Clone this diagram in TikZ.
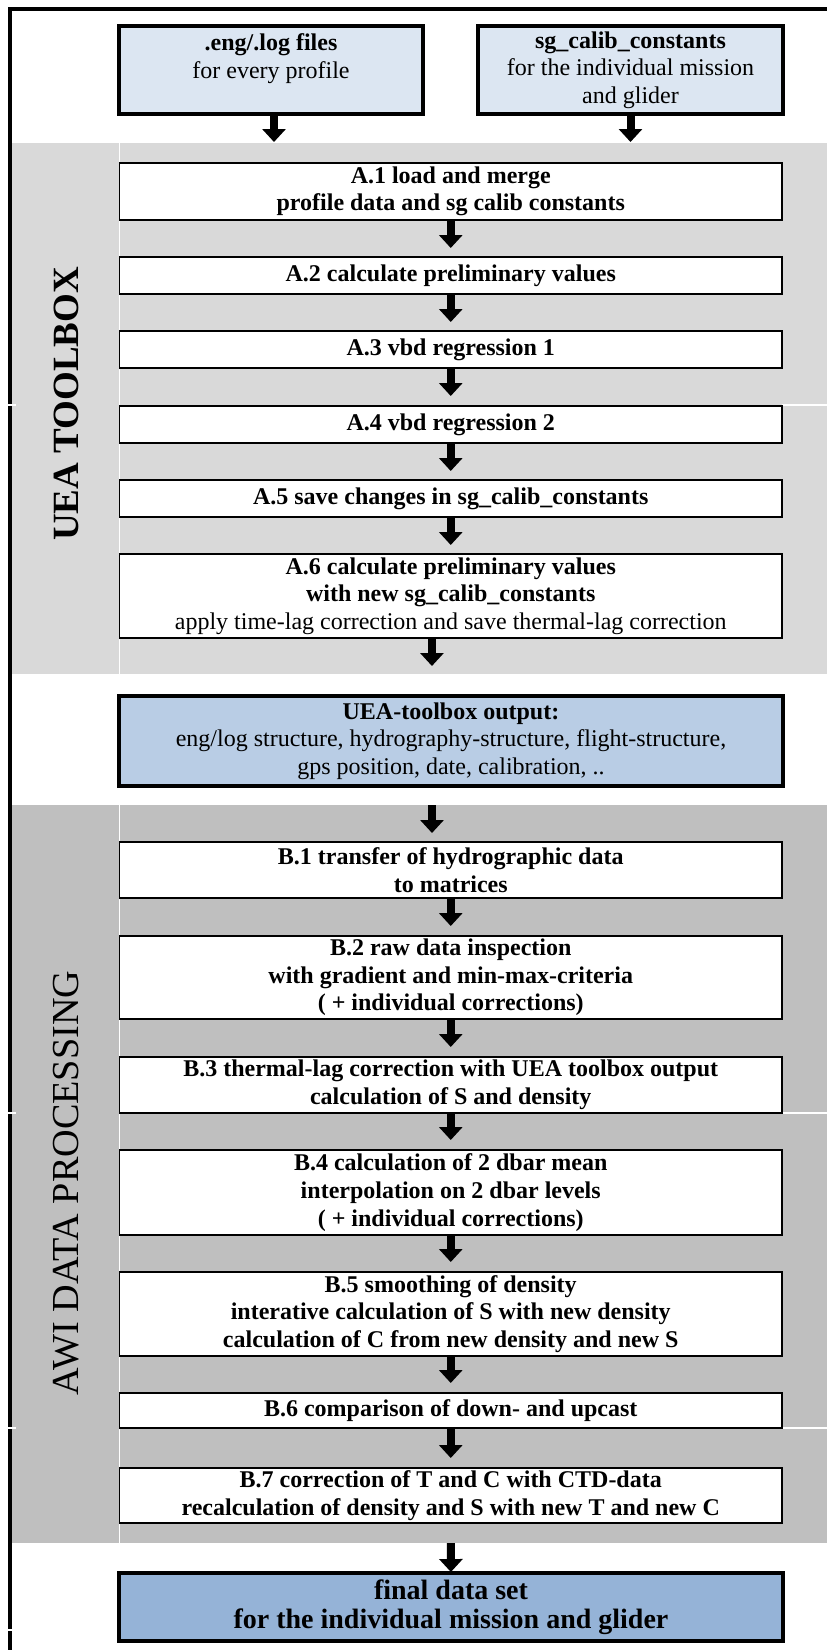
\documentclass[tikz,border=0pt]{standalone}
\usepackage{fontspec}
\setmainfont{Liberation Serif}
\usetikzlibrary{arrows.meta,calc}
\definecolor{topblue}{HTML}{DCE6F2}
\definecolor{midblue}{HTML}{B9CDE5}
\definecolor{finalblue}{HTML}{95B3D7}
\definecolor{grayA}{HTML}{D9D9D9}
\definecolor{grayB}{HTML}{BFBFBF}
\tikzset{
  stepbox/.style={draw, line width=0.6pt, fill=white, align=center, inner sep=0pt, outer sep=0pt,
    minimum width=331.25pt, font=\fontsize{12pt}{13.8pt}\selectfont\bfseries},
  inbox/.style={draw, line width=1.6pt, fill=topblue, align=center, inner sep=0pt, outer sep=0pt,
    minimum height=44pt, font=\fontsize{12pt}{13.8pt}\selectfont},
  outbox/.style={draw, line width=1.6pt, align=center, inner sep=0pt, outer sep=0pt,
    minimum width=332pt},
  flow/.style={line width=4pt, -{Triangle[width=11.5pt,length=6.5pt]}},
  sidelabel/.style={rotate=90, inner sep=0pt, font=\fontsize{18.5pt}{20pt}\selectfont},
  gapline/.style={white, line width=0.6pt}
}
\begin{document}
\begin{tikzpicture}[x=0.5pt,y=-0.5pt]
\useasboundingbox (0,0) rectangle (827,1650);
% bands
\fill[grayA] (12,143) rectangle (827,674);
\fill[grayB] (12,805) rectangle (827,1543);
\draw[gapline] (119.5,143) -- (119.5,674);
\draw[gapline] (119.5,805) -- (119.5,1543);
% outer frame
\draw[line width=2pt] (10.3,1650) -- (10.3,9) -- (827,9);
\foreach \yy in {405,1113,1428} {
  \draw[gapline] (0,\yy) -- (16,\yy);
  \draw[gapline] (782,\yy) -- (827,\yy);
}
\draw[gapline] (0,1630) -- (16,1630);
% side labels
\node[sidelabel, font=\fontsize{18.5pt}{20pt}\selectfont\bfseries] (uealab) at (66,404) {UEA TOOLBOX};
\node[sidelabel, font=\fontsize{19.1pt}{20pt}\selectfont] (awilab) at (66,1183) {AWI DATA PROCESSING};
% input boxes
\node[inbox, minimum width=152pt] (in1) at (271,70) {{\bfseries .eng/.log files}\\for every profile\\\mbox{}};
\node[inbox, minimum width=152.5pt] (in2) at (630.5,70) {{\bfseries sg\_calib\_constants}\\for the individual mission\\and glider};
% A steps
\node[stepbox, minimum height=28.5pt] (a1) at (450.75,191.5) {A.1 load and merge\\profile data and sg calib constants};
\node[stepbox, minimum height=18.5pt] (a2) at (450.75,275.5) {A.2 calculate preliminary values};
\node[stepbox, minimum height=18.5pt] (a3) at (450.75,349.5) {A.3 vbd regression 1};
\node[stepbox, minimum height=18.5pt] (a4) at (450.75,424.5) {A.4 vbd regression 2};
\node[stepbox, minimum height=18.5pt] (a5) at (450.75,498.5) {A.5 save changes in sg\_calib\_constants};
\node[stepbox, minimum height=42pt] (a6) at (450.75,596) {A.6 calculate preliminary values\\with new sg\_calib\_constants\\{\mdseries apply time-lag correction and save thermal-lag correction}};
% UEA output
\node[outbox, fill=midblue, minimum height=45pt, font=\fontsize{12pt}{13.8pt}\selectfont] (uea) at (451,741) {{\bfseries UEA-toolbox output:}\\eng/log structure, hydrography-structure, flight-structure,\\gps position, date, calibration, ..};
% B steps
\node[stepbox, minimum height=28pt] (b1) at (450.75,870) {B.1 transfer of hydrographic data\\to matrices};
\node[stepbox, minimum height=41.5pt] (b2) at (450.75,977.5) {B.2 raw data inspection\\with gradient and min-max-criteria\\( + individual corrections)};
\node[stepbox, minimum height=28pt] (b3) at (450.75,1085) {B.3 thermal-lag correction with UEA toolbox output\\calculation of S and density};
\node[stepbox, minimum height=42.5pt] (b4) at (450.75,1192.5) {B.4 calculation of 2 dbar mean\\interpolation on 2 dbar levels\\( + individual corrections)};
\node[stepbox, minimum height=42pt] (b5) at (450.75,1314) {B.5 smoothing of density\\interative calculation of S with new density\\calculation of C from new density and new S};
\node[stepbox, minimum height=17.5pt] (b6) at (450.75,1410.5) {B.6 comparison of down- and upcast};
\node[stepbox, minimum height=27.5pt] (b7) at (450.75,1495.5) {B.7 correction of T and C with CTD-data\\recalculation of density and S with new T and new C};
% final
\node[outbox, fill=finalblue, minimum height=34pt, font=\fontsize{14pt}{14.4pt}\selectfont\bfseries] (fin) at (451,1607) {final data set\\for the individual mission and glider};
% arrows
\draw[flow, shorten >=10.5pt] ([xshift=1.5pt]in1.south) -- ([xshift=1.5pt]in1.south |- a1.north);
\draw[flow, shorten >=10.5pt] (in2.south) -- (in2.south |- a1.north);
\draw[flow, shorten >=4.5pt] (a1) -- (a2);
\draw[flow, shorten >=4.5pt] (a2) -- (a3);
\draw[flow, shorten >=5pt] (a3) -- (a4);
\draw[flow, shorten >=4.5pt] (a4) -- (a5);
\draw[flow, shorten >=4.5pt] (a5) -- (a6);
\draw[flow, shorten >=15pt] ([xshift=-9.4pt]a6.south) -- ([xshift=-9.4pt]a6.south |- uea.north);
\draw[flow, shorten <=9.5pt, shorten >=4.5pt] ([xshift=-9.5pt]uea.south) -- ([xshift=-9.5pt]uea.south |- b1.north);
\draw[flow, shorten >=5pt] (b1) -- (b2);
\draw[flow, shorten >=5pt] (b2) -- (b3);
\draw[flow, shorten >=5pt] (b3) -- (b4);
\draw[flow, shorten >=5pt] (b4) -- (b5);
\draw[flow, shorten >=5pt] (b5) -- (b6);
\draw[flow, shorten >=5pt] (b6) -- (b7);
\draw[flow, shorten <=10pt, shorten >=0.5pt] (b7) -- (fin);
\end{tikzpicture}
\end{document}
